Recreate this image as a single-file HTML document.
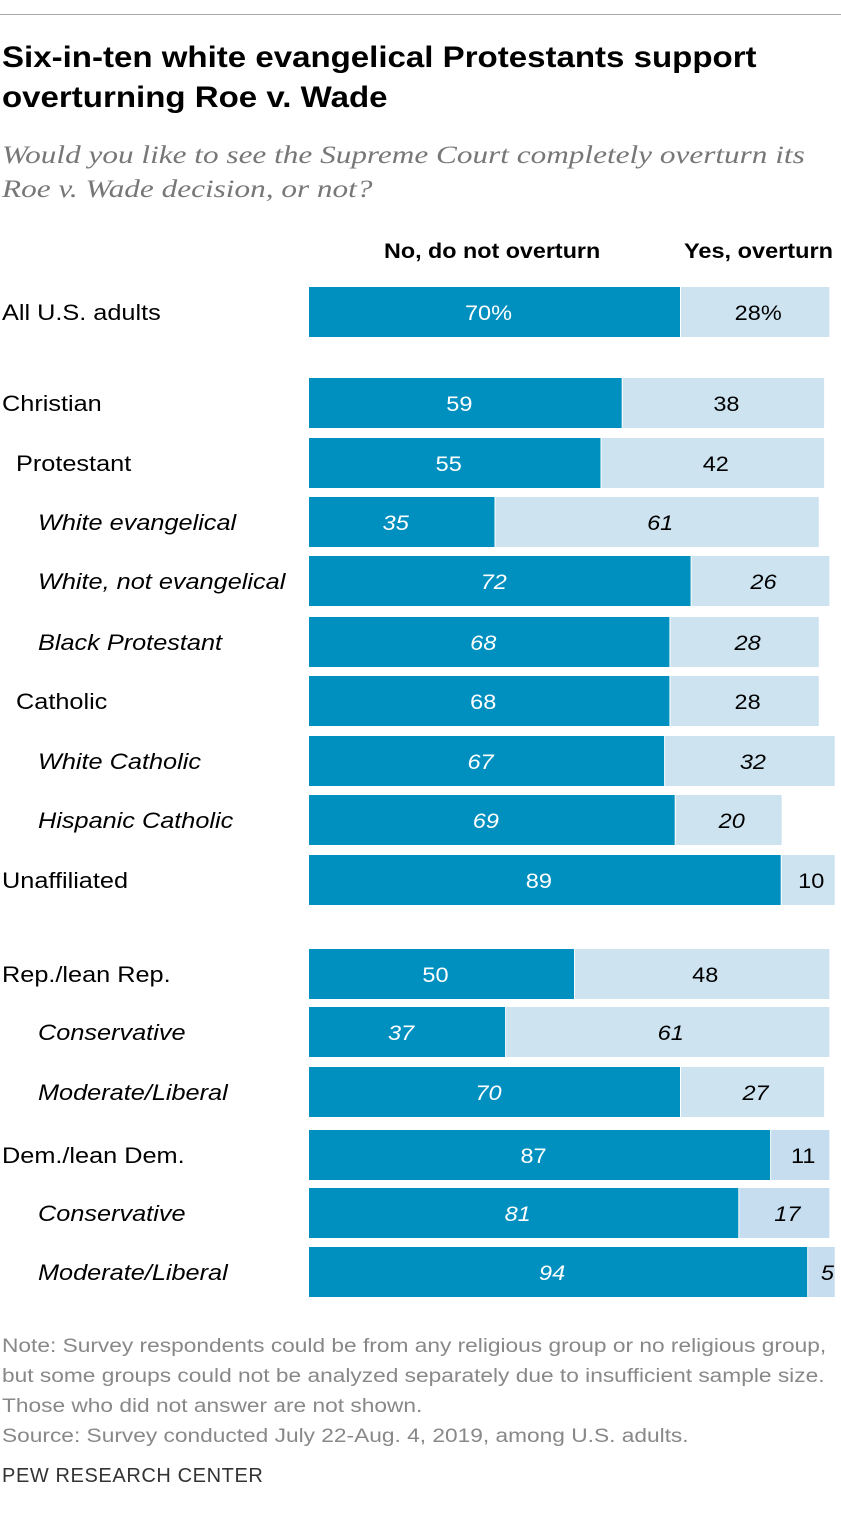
<!DOCTYPE html>
<html><head><meta charset="utf-8"><style>
body{margin:0;width:841px;height:1540px;background:#fff;font-family:"Liberation Sans",sans-serif;position:relative;overflow:hidden}
.a{position:absolute;white-space:nowrap;transform-origin:0 0}
</style></head><body>
<div class="a" style="left:0;top:14px;width:841px;height:1px;background:#aaa"></div>
<div class="a" style="left:2px;top:38px;font-size:29.5px;font-weight:bold;line-height:40px;color:#000;transform:scaleX(1.12)">Six-in-ten white evangelical Protestants support<br>overturning Roe v. Wade</div>
<div class="a" style="left:2px;top:138px;font-family:'Liberation Serif',serif;font-style:italic;font-size:25.5px;line-height:34px;color:#777;transform:scaleX(1.225)">Would you like to see the Supreme Court completely overturn its<br>Roe v. Wade decision, or not?</div>
<div class="a" style="left:384px;top:240px;font-size:21px;font-weight:bold;transform:scaleX(1.11)">No, do not overturn</div>
<div class="a" style="left:684px;top:240px;font-size:21px;font-weight:bold;transform:scaleX(1.12)">Yes, overturn</div>
<svg class="a" style="left:0;top:0" width="841" height="1320" id="chart"></svg>
<div class="a" style="left:2px;top:1332px;font-size:19px;line-height:30px;color:#888;transform:scaleX(1.195)">Note: Survey respondents could be from any religious group or no religious group,<br>but some groups could not be analyzed separately due to insufficient sample size.<br>Those who did not answer are not shown.<br>Source: Survey conducted July 22-Aug. 4, 2019, among U.S. adults.</div>
<div class="a" style="left:2px;top:1465px;font-size:20px;color:#333;letter-spacing:0.6px">PEW RESEARCH CENTER</div>
<script>
const categories=["All U.S. adults","Christian","Protestant","White evangelical","White, not evangelical","Black Protestant","Catholic","White Catholic","Hispanic Catholic","Unaffiliated","Rep./lean Rep.","Conservative","Moderate/Liberal","Dem./lean Dem.","Conservative","Moderate/Liberal"];
const noValues=[70,59,55,35,72,68,68,67,69,89,50,37,70,87,81,94];
const yesValues=[28,38,42,61,26,28,28,32,20,10,48,61,27,11,17,5];
const levels=[0,0,1,2,2,2,1,2,2,0,0,2,2,0,2,2];
const rowY=[312,403,463,522,581,642,701,761,820,880,974,1032,1092,1155,1213,1272];
const svg=document.getElementById('chart');
const NS='http://www.w3.org/2000/svg';
const x0=309,scale=5.3,bh=50;
const xs=v=>x0+v*scale;
categories.forEach((c,i)=>{
  const y=rowY[i],it=levels[i]==2;
  const g=document.createElementNS(NS,'g');
  
  
  const lab=document.createElementNS(NS,'text');
  
  
  lab.setAttribute('transform','translate('+[2,16,38][levels[i]]+','+(y+8)+') scale(1.15,1)');
  lab.setAttribute('font-size','22');if(it)lab.setAttribute('font-style','italic');
  lab.textContent=c;g.appendChild(lab);
  const r1=document.createElementNS(NS,'rect');
  
  
  r1.setAttribute('x',x0);r1.setAttribute('y',y-bh/2);r1.setAttribute('width',xs(noValues[i])-x0);r1.setAttribute('height',bh);r1.setAttribute('fill','#0090c0');g.appendChild(r1);
  const r2=document.createElementNS(NS,'rect');
  
  
  r2.setAttribute('x',xs(noValues[i])+1);r2.setAttribute('y',y-bh/2);r2.setAttribute('width',yesValues[i]*scale);r2.setAttribute('height',bh);r2.setAttribute('fill',i>=13?'#c6dcef':'#cde3f0');g.appendChild(r2);
  const pct=i==0?'%':'';
  const t1=document.createElementNS(NS,'text');
  
  
  t1.setAttribute('transform','translate('+((x0+xs(noValues[i]))/2-6)+','+(y+8)+') scale(1.12,1)');t1.setAttribute('text-anchor','middle');t1.setAttribute('fill','#fff');t1.setAttribute('font-size','21');if(it)t1.setAttribute('font-style','italic');
  t1.textContent=noValues[i]+pct;g.appendChild(t1);
  const t2=document.createElementNS(NS,'text');
  
  
  t2.setAttribute('transform','translate('+(xs(noValues[i])+1+yesValues[i]*scale/2+(yesValues[i]<8?3:0)+3)+','+(y+8)+') scale(1.12,1)');t2.setAttribute('text-anchor','middle');t2.setAttribute('fill','#000');t2.setAttribute('font-size','21');if(it)t2.setAttribute('font-style','italic');
  t2.textContent=yesValues[i]+pct;g.appendChild(t2);
  svg.appendChild(g);
});
</script>
</body></html>
